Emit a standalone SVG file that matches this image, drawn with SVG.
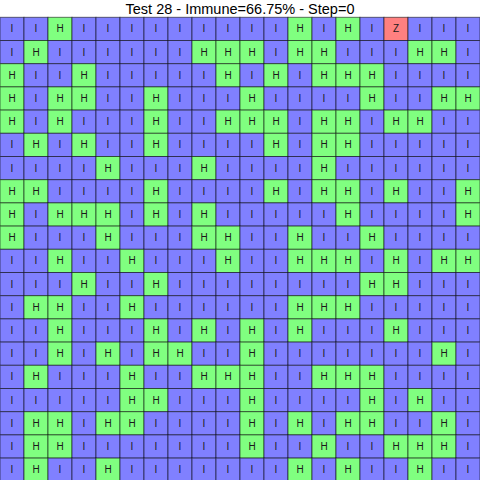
<svg xmlns="http://www.w3.org/2000/svg" width="480" height="480" viewBox="0 0 480 480">
<style>
rect.c{width:24px;height:23.2px;stroke:#000;stroke-opacity:.55;stroke-width:1}
.I rect{fill:#8080ff}.H rect{fill:#80ff80}.Z rect{fill:#ff8080}
text{font-family:"Liberation Sans",Arial,sans-serif;font-size:10px;text-anchor:middle;fill:#1a1a1a}
#title{font-size:14.5px;fill:#000}
</style>
<rect width="480" height="480" fill="#fff"/>
<text id="title" x="240" y="14.3">Test 28 - Immune=66.75% - Step=0</text>
<g id="grid">
<g id="row0" transform="translate(0,17.3)">
<g id="c0_0" class="I"><rect class="c" x="0"/><text x="12" y="15.2">I</text></g>
<g id="c0_1" class="I"><rect class="c" x="24"/><text x="36" y="15.2">I</text></g>
<g id="c0_2" class="H"><rect class="c" x="48"/><text x="60" y="15.2">H</text></g>
<g id="c0_3" class="I"><rect class="c" x="72"/><text x="84" y="15.2">I</text></g>
<g id="c0_4" class="I"><rect class="c" x="96"/><text x="108" y="15.2">I</text></g>
<g id="c0_5" class="I"><rect class="c" x="120"/><text x="132" y="15.2">I</text></g>
<g id="c0_6" class="I"><rect class="c" x="144"/><text x="156" y="15.2">I</text></g>
<g id="c0_7" class="I"><rect class="c" x="168"/><text x="180" y="15.2">I</text></g>
<g id="c0_8" class="I"><rect class="c" x="192"/><text x="204" y="15.2">I</text></g>
<g id="c0_9" class="I"><rect class="c" x="216"/><text x="228" y="15.2">I</text></g>
<g id="c0_10" class="I"><rect class="c" x="240"/><text x="252" y="15.2">I</text></g>
<g id="c0_11" class="I"><rect class="c" x="264"/><text x="276" y="15.2">I</text></g>
<g id="c0_12" class="H"><rect class="c" x="288"/><text x="300" y="15.2">H</text></g>
<g id="c0_13" class="I"><rect class="c" x="312"/><text x="324" y="15.2">I</text></g>
<g id="c0_14" class="H"><rect class="c" x="336"/><text x="348" y="15.2">H</text></g>
<g id="c0_15" class="I"><rect class="c" x="360"/><text x="372" y="15.2">I</text></g>
<g id="c0_16" class="Z"><rect class="c" x="384"/><text x="396" y="15.2">Z</text></g>
<g id="c0_17" class="I"><rect class="c" x="408"/><text x="420" y="15.2">I</text></g>
<g id="c0_18" class="I"><rect class="c" x="432"/><text x="444" y="15.2">I</text></g>
<g id="c0_19" class="I"><rect class="c" x="456"/><text x="468" y="15.2">I</text></g>
</g>
<g id="row1" transform="translate(0,40.5)">
<g id="c1_0" class="I"><rect class="c" x="0"/><text x="12" y="15.2">I</text></g>
<g id="c1_1" class="H"><rect class="c" x="24"/><text x="36" y="15.2">H</text></g>
<g id="c1_2" class="I"><rect class="c" x="48"/><text x="60" y="15.2">I</text></g>
<g id="c1_3" class="I"><rect class="c" x="72"/><text x="84" y="15.2">I</text></g>
<g id="c1_4" class="I"><rect class="c" x="96"/><text x="108" y="15.2">I</text></g>
<g id="c1_5" class="I"><rect class="c" x="120"/><text x="132" y="15.2">I</text></g>
<g id="c1_6" class="I"><rect class="c" x="144"/><text x="156" y="15.2">I</text></g>
<g id="c1_7" class="I"><rect class="c" x="168"/><text x="180" y="15.2">I</text></g>
<g id="c1_8" class="H"><rect class="c" x="192"/><text x="204" y="15.2">H</text></g>
<g id="c1_9" class="H"><rect class="c" x="216"/><text x="228" y="15.2">H</text></g>
<g id="c1_10" class="H"><rect class="c" x="240"/><text x="252" y="15.2">H</text></g>
<g id="c1_11" class="I"><rect class="c" x="264"/><text x="276" y="15.2">I</text></g>
<g id="c1_12" class="H"><rect class="c" x="288"/><text x="300" y="15.2">H</text></g>
<g id="c1_13" class="H"><rect class="c" x="312"/><text x="324" y="15.2">H</text></g>
<g id="c1_14" class="I"><rect class="c" x="336"/><text x="348" y="15.2">I</text></g>
<g id="c1_15" class="I"><rect class="c" x="360"/><text x="372" y="15.2">I</text></g>
<g id="c1_16" class="I"><rect class="c" x="384"/><text x="396" y="15.2">I</text></g>
<g id="c1_17" class="H"><rect class="c" x="408"/><text x="420" y="15.2">H</text></g>
<g id="c1_18" class="H"><rect class="c" x="432"/><text x="444" y="15.2">H</text></g>
<g id="c1_19" class="I"><rect class="c" x="456"/><text x="468" y="15.2">I</text></g>
</g>
<g id="row2" transform="translate(0,63.7)">
<g id="c2_0" class="H"><rect class="c" x="0"/><text x="12" y="15.2">H</text></g>
<g id="c2_1" class="I"><rect class="c" x="24"/><text x="36" y="15.2">I</text></g>
<g id="c2_2" class="I"><rect class="c" x="48"/><text x="60" y="15.2">I</text></g>
<g id="c2_3" class="H"><rect class="c" x="72"/><text x="84" y="15.2">H</text></g>
<g id="c2_4" class="I"><rect class="c" x="96"/><text x="108" y="15.2">I</text></g>
<g id="c2_5" class="I"><rect class="c" x="120"/><text x="132" y="15.2">I</text></g>
<g id="c2_6" class="I"><rect class="c" x="144"/><text x="156" y="15.2">I</text></g>
<g id="c2_7" class="I"><rect class="c" x="168"/><text x="180" y="15.2">I</text></g>
<g id="c2_8" class="I"><rect class="c" x="192"/><text x="204" y="15.2">I</text></g>
<g id="c2_9" class="H"><rect class="c" x="216"/><text x="228" y="15.2">H</text></g>
<g id="c2_10" class="I"><rect class="c" x="240"/><text x="252" y="15.2">I</text></g>
<g id="c2_11" class="H"><rect class="c" x="264"/><text x="276" y="15.2">H</text></g>
<g id="c2_12" class="I"><rect class="c" x="288"/><text x="300" y="15.2">I</text></g>
<g id="c2_13" class="H"><rect class="c" x="312"/><text x="324" y="15.2">H</text></g>
<g id="c2_14" class="H"><rect class="c" x="336"/><text x="348" y="15.2">H</text></g>
<g id="c2_15" class="H"><rect class="c" x="360"/><text x="372" y="15.2">H</text></g>
<g id="c2_16" class="I"><rect class="c" x="384"/><text x="396" y="15.2">I</text></g>
<g id="c2_17" class="I"><rect class="c" x="408"/><text x="420" y="15.2">I</text></g>
<g id="c2_18" class="I"><rect class="c" x="432"/><text x="444" y="15.2">I</text></g>
<g id="c2_19" class="I"><rect class="c" x="456"/><text x="468" y="15.2">I</text></g>
</g>
<g id="row3" transform="translate(0,86.9)">
<g id="c3_0" class="H"><rect class="c" x="0"/><text x="12" y="15.2">H</text></g>
<g id="c3_1" class="I"><rect class="c" x="24"/><text x="36" y="15.2">I</text></g>
<g id="c3_2" class="H"><rect class="c" x="48"/><text x="60" y="15.2">H</text></g>
<g id="c3_3" class="H"><rect class="c" x="72"/><text x="84" y="15.2">H</text></g>
<g id="c3_4" class="I"><rect class="c" x="96"/><text x="108" y="15.2">I</text></g>
<g id="c3_5" class="I"><rect class="c" x="120"/><text x="132" y="15.2">I</text></g>
<g id="c3_6" class="H"><rect class="c" x="144"/><text x="156" y="15.2">H</text></g>
<g id="c3_7" class="I"><rect class="c" x="168"/><text x="180" y="15.2">I</text></g>
<g id="c3_8" class="I"><rect class="c" x="192"/><text x="204" y="15.2">I</text></g>
<g id="c3_9" class="I"><rect class="c" x="216"/><text x="228" y="15.2">I</text></g>
<g id="c3_10" class="H"><rect class="c" x="240"/><text x="252" y="15.2">H</text></g>
<g id="c3_11" class="I"><rect class="c" x="264"/><text x="276" y="15.2">I</text></g>
<g id="c3_12" class="I"><rect class="c" x="288"/><text x="300" y="15.2">I</text></g>
<g id="c3_13" class="I"><rect class="c" x="312"/><text x="324" y="15.2">I</text></g>
<g id="c3_14" class="I"><rect class="c" x="336"/><text x="348" y="15.2">I</text></g>
<g id="c3_15" class="H"><rect class="c" x="360"/><text x="372" y="15.2">H</text></g>
<g id="c3_16" class="I"><rect class="c" x="384"/><text x="396" y="15.2">I</text></g>
<g id="c3_17" class="I"><rect class="c" x="408"/><text x="420" y="15.2">I</text></g>
<g id="c3_18" class="H"><rect class="c" x="432"/><text x="444" y="15.2">H</text></g>
<g id="c3_19" class="H"><rect class="c" x="456"/><text x="468" y="15.2">H</text></g>
</g>
<g id="row4" transform="translate(0,110.1)">
<g id="c4_0" class="H"><rect class="c" x="0"/><text x="12" y="15.2">H</text></g>
<g id="c4_1" class="I"><rect class="c" x="24"/><text x="36" y="15.2">I</text></g>
<g id="c4_2" class="H"><rect class="c" x="48"/><text x="60" y="15.2">H</text></g>
<g id="c4_3" class="I"><rect class="c" x="72"/><text x="84" y="15.2">I</text></g>
<g id="c4_4" class="I"><rect class="c" x="96"/><text x="108" y="15.2">I</text></g>
<g id="c4_5" class="I"><rect class="c" x="120"/><text x="132" y="15.2">I</text></g>
<g id="c4_6" class="H"><rect class="c" x="144"/><text x="156" y="15.2">H</text></g>
<g id="c4_7" class="I"><rect class="c" x="168"/><text x="180" y="15.2">I</text></g>
<g id="c4_8" class="I"><rect class="c" x="192"/><text x="204" y="15.2">I</text></g>
<g id="c4_9" class="H"><rect class="c" x="216"/><text x="228" y="15.2">H</text></g>
<g id="c4_10" class="H"><rect class="c" x="240"/><text x="252" y="15.2">H</text></g>
<g id="c4_11" class="H"><rect class="c" x="264"/><text x="276" y="15.2">H</text></g>
<g id="c4_12" class="I"><rect class="c" x="288"/><text x="300" y="15.2">I</text></g>
<g id="c4_13" class="H"><rect class="c" x="312"/><text x="324" y="15.2">H</text></g>
<g id="c4_14" class="H"><rect class="c" x="336"/><text x="348" y="15.2">H</text></g>
<g id="c4_15" class="I"><rect class="c" x="360"/><text x="372" y="15.2">I</text></g>
<g id="c4_16" class="H"><rect class="c" x="384"/><text x="396" y="15.2">H</text></g>
<g id="c4_17" class="H"><rect class="c" x="408"/><text x="420" y="15.2">H</text></g>
<g id="c4_18" class="I"><rect class="c" x="432"/><text x="444" y="15.2">I</text></g>
<g id="c4_19" class="I"><rect class="c" x="456"/><text x="468" y="15.2">I</text></g>
</g>
<g id="row5" transform="translate(0,133.3)">
<g id="c5_0" class="I"><rect class="c" x="0"/><text x="12" y="15.2">I</text></g>
<g id="c5_1" class="H"><rect class="c" x="24"/><text x="36" y="15.2">H</text></g>
<g id="c5_2" class="I"><rect class="c" x="48"/><text x="60" y="15.2">I</text></g>
<g id="c5_3" class="H"><rect class="c" x="72"/><text x="84" y="15.2">H</text></g>
<g id="c5_4" class="I"><rect class="c" x="96"/><text x="108" y="15.2">I</text></g>
<g id="c5_5" class="I"><rect class="c" x="120"/><text x="132" y="15.2">I</text></g>
<g id="c5_6" class="H"><rect class="c" x="144"/><text x="156" y="15.2">H</text></g>
<g id="c5_7" class="I"><rect class="c" x="168"/><text x="180" y="15.2">I</text></g>
<g id="c5_8" class="I"><rect class="c" x="192"/><text x="204" y="15.2">I</text></g>
<g id="c5_9" class="I"><rect class="c" x="216"/><text x="228" y="15.2">I</text></g>
<g id="c5_10" class="I"><rect class="c" x="240"/><text x="252" y="15.2">I</text></g>
<g id="c5_11" class="H"><rect class="c" x="264"/><text x="276" y="15.2">H</text></g>
<g id="c5_12" class="I"><rect class="c" x="288"/><text x="300" y="15.2">I</text></g>
<g id="c5_13" class="H"><rect class="c" x="312"/><text x="324" y="15.2">H</text></g>
<g id="c5_14" class="H"><rect class="c" x="336"/><text x="348" y="15.2">H</text></g>
<g id="c5_15" class="I"><rect class="c" x="360"/><text x="372" y="15.2">I</text></g>
<g id="c5_16" class="I"><rect class="c" x="384"/><text x="396" y="15.2">I</text></g>
<g id="c5_17" class="I"><rect class="c" x="408"/><text x="420" y="15.2">I</text></g>
<g id="c5_18" class="I"><rect class="c" x="432"/><text x="444" y="15.2">I</text></g>
<g id="c5_19" class="I"><rect class="c" x="456"/><text x="468" y="15.2">I</text></g>
</g>
<g id="row6" transform="translate(0,156.5)">
<g id="c6_0" class="I"><rect class="c" x="0"/><text x="12" y="15.2">I</text></g>
<g id="c6_1" class="I"><rect class="c" x="24"/><text x="36" y="15.2">I</text></g>
<g id="c6_2" class="I"><rect class="c" x="48"/><text x="60" y="15.2">I</text></g>
<g id="c6_3" class="I"><rect class="c" x="72"/><text x="84" y="15.2">I</text></g>
<g id="c6_4" class="H"><rect class="c" x="96"/><text x="108" y="15.2">H</text></g>
<g id="c6_5" class="I"><rect class="c" x="120"/><text x="132" y="15.2">I</text></g>
<g id="c6_6" class="I"><rect class="c" x="144"/><text x="156" y="15.2">I</text></g>
<g id="c6_7" class="I"><rect class="c" x="168"/><text x="180" y="15.2">I</text></g>
<g id="c6_8" class="H"><rect class="c" x="192"/><text x="204" y="15.2">H</text></g>
<g id="c6_9" class="I"><rect class="c" x="216"/><text x="228" y="15.2">I</text></g>
<g id="c6_10" class="I"><rect class="c" x="240"/><text x="252" y="15.2">I</text></g>
<g id="c6_11" class="I"><rect class="c" x="264"/><text x="276" y="15.2">I</text></g>
<g id="c6_12" class="I"><rect class="c" x="288"/><text x="300" y="15.2">I</text></g>
<g id="c6_13" class="H"><rect class="c" x="312"/><text x="324" y="15.2">H</text></g>
<g id="c6_14" class="I"><rect class="c" x="336"/><text x="348" y="15.2">I</text></g>
<g id="c6_15" class="I"><rect class="c" x="360"/><text x="372" y="15.2">I</text></g>
<g id="c6_16" class="I"><rect class="c" x="384"/><text x="396" y="15.2">I</text></g>
<g id="c6_17" class="I"><rect class="c" x="408"/><text x="420" y="15.2">I</text></g>
<g id="c6_18" class="I"><rect class="c" x="432"/><text x="444" y="15.2">I</text></g>
<g id="c6_19" class="I"><rect class="c" x="456"/><text x="468" y="15.2">I</text></g>
</g>
<g id="row7" transform="translate(0,179.7)">
<g id="c7_0" class="H"><rect class="c" x="0"/><text x="12" y="15.2">H</text></g>
<g id="c7_1" class="H"><rect class="c" x="24"/><text x="36" y="15.2">H</text></g>
<g id="c7_2" class="I"><rect class="c" x="48"/><text x="60" y="15.2">I</text></g>
<g id="c7_3" class="I"><rect class="c" x="72"/><text x="84" y="15.2">I</text></g>
<g id="c7_4" class="I"><rect class="c" x="96"/><text x="108" y="15.2">I</text></g>
<g id="c7_5" class="I"><rect class="c" x="120"/><text x="132" y="15.2">I</text></g>
<g id="c7_6" class="H"><rect class="c" x="144"/><text x="156" y="15.2">H</text></g>
<g id="c7_7" class="I"><rect class="c" x="168"/><text x="180" y="15.2">I</text></g>
<g id="c7_8" class="I"><rect class="c" x="192"/><text x="204" y="15.2">I</text></g>
<g id="c7_9" class="I"><rect class="c" x="216"/><text x="228" y="15.2">I</text></g>
<g id="c7_10" class="I"><rect class="c" x="240"/><text x="252" y="15.2">I</text></g>
<g id="c7_11" class="H"><rect class="c" x="264"/><text x="276" y="15.2">H</text></g>
<g id="c7_12" class="I"><rect class="c" x="288"/><text x="300" y="15.2">I</text></g>
<g id="c7_13" class="H"><rect class="c" x="312"/><text x="324" y="15.2">H</text></g>
<g id="c7_14" class="H"><rect class="c" x="336"/><text x="348" y="15.2">H</text></g>
<g id="c7_15" class="I"><rect class="c" x="360"/><text x="372" y="15.2">I</text></g>
<g id="c7_16" class="H"><rect class="c" x="384"/><text x="396" y="15.2">H</text></g>
<g id="c7_17" class="I"><rect class="c" x="408"/><text x="420" y="15.2">I</text></g>
<g id="c7_18" class="I"><rect class="c" x="432"/><text x="444" y="15.2">I</text></g>
<g id="c7_19" class="H"><rect class="c" x="456"/><text x="468" y="15.2">H</text></g>
</g>
<g id="row8" transform="translate(0,202.9)">
<g id="c8_0" class="H"><rect class="c" x="0"/><text x="12" y="15.2">H</text></g>
<g id="c8_1" class="I"><rect class="c" x="24"/><text x="36" y="15.2">I</text></g>
<g id="c8_2" class="H"><rect class="c" x="48"/><text x="60" y="15.2">H</text></g>
<g id="c8_3" class="H"><rect class="c" x="72"/><text x="84" y="15.2">H</text></g>
<g id="c8_4" class="H"><rect class="c" x="96"/><text x="108" y="15.2">H</text></g>
<g id="c8_5" class="I"><rect class="c" x="120"/><text x="132" y="15.2">I</text></g>
<g id="c8_6" class="H"><rect class="c" x="144"/><text x="156" y="15.2">H</text></g>
<g id="c8_7" class="I"><rect class="c" x="168"/><text x="180" y="15.2">I</text></g>
<g id="c8_8" class="H"><rect class="c" x="192"/><text x="204" y="15.2">H</text></g>
<g id="c8_9" class="I"><rect class="c" x="216"/><text x="228" y="15.2">I</text></g>
<g id="c8_10" class="I"><rect class="c" x="240"/><text x="252" y="15.2">I</text></g>
<g id="c8_11" class="I"><rect class="c" x="264"/><text x="276" y="15.2">I</text></g>
<g id="c8_12" class="I"><rect class="c" x="288"/><text x="300" y="15.2">I</text></g>
<g id="c8_13" class="I"><rect class="c" x="312"/><text x="324" y="15.2">I</text></g>
<g id="c8_14" class="H"><rect class="c" x="336"/><text x="348" y="15.2">H</text></g>
<g id="c8_15" class="I"><rect class="c" x="360"/><text x="372" y="15.2">I</text></g>
<g id="c8_16" class="I"><rect class="c" x="384"/><text x="396" y="15.2">I</text></g>
<g id="c8_17" class="I"><rect class="c" x="408"/><text x="420" y="15.2">I</text></g>
<g id="c8_18" class="I"><rect class="c" x="432"/><text x="444" y="15.2">I</text></g>
<g id="c8_19" class="H"><rect class="c" x="456"/><text x="468" y="15.2">H</text></g>
</g>
<g id="row9" transform="translate(0,226.1)">
<g id="c9_0" class="H"><rect class="c" x="0"/><text x="12" y="15.2">H</text></g>
<g id="c9_1" class="I"><rect class="c" x="24"/><text x="36" y="15.2">I</text></g>
<g id="c9_2" class="I"><rect class="c" x="48"/><text x="60" y="15.2">I</text></g>
<g id="c9_3" class="I"><rect class="c" x="72"/><text x="84" y="15.2">I</text></g>
<g id="c9_4" class="H"><rect class="c" x="96"/><text x="108" y="15.2">H</text></g>
<g id="c9_5" class="I"><rect class="c" x="120"/><text x="132" y="15.2">I</text></g>
<g id="c9_6" class="I"><rect class="c" x="144"/><text x="156" y="15.2">I</text></g>
<g id="c9_7" class="I"><rect class="c" x="168"/><text x="180" y="15.2">I</text></g>
<g id="c9_8" class="H"><rect class="c" x="192"/><text x="204" y="15.2">H</text></g>
<g id="c9_9" class="H"><rect class="c" x="216"/><text x="228" y="15.2">H</text></g>
<g id="c9_10" class="I"><rect class="c" x="240"/><text x="252" y="15.2">I</text></g>
<g id="c9_11" class="I"><rect class="c" x="264"/><text x="276" y="15.2">I</text></g>
<g id="c9_12" class="H"><rect class="c" x="288"/><text x="300" y="15.2">H</text></g>
<g id="c9_13" class="I"><rect class="c" x="312"/><text x="324" y="15.2">I</text></g>
<g id="c9_14" class="I"><rect class="c" x="336"/><text x="348" y="15.2">I</text></g>
<g id="c9_15" class="H"><rect class="c" x="360"/><text x="372" y="15.2">H</text></g>
<g id="c9_16" class="I"><rect class="c" x="384"/><text x="396" y="15.2">I</text></g>
<g id="c9_17" class="I"><rect class="c" x="408"/><text x="420" y="15.2">I</text></g>
<g id="c9_18" class="I"><rect class="c" x="432"/><text x="444" y="15.2">I</text></g>
<g id="c9_19" class="I"><rect class="c" x="456"/><text x="468" y="15.2">I</text></g>
</g>
<g id="row10" transform="translate(0,249.3)">
<g id="c10_0" class="I"><rect class="c" x="0"/><text x="12" y="15.2">I</text></g>
<g id="c10_1" class="I"><rect class="c" x="24"/><text x="36" y="15.2">I</text></g>
<g id="c10_2" class="H"><rect class="c" x="48"/><text x="60" y="15.2">H</text></g>
<g id="c10_3" class="I"><rect class="c" x="72"/><text x="84" y="15.2">I</text></g>
<g id="c10_4" class="I"><rect class="c" x="96"/><text x="108" y="15.2">I</text></g>
<g id="c10_5" class="H"><rect class="c" x="120"/><text x="132" y="15.2">H</text></g>
<g id="c10_6" class="I"><rect class="c" x="144"/><text x="156" y="15.2">I</text></g>
<g id="c10_7" class="I"><rect class="c" x="168"/><text x="180" y="15.2">I</text></g>
<g id="c10_8" class="I"><rect class="c" x="192"/><text x="204" y="15.2">I</text></g>
<g id="c10_9" class="H"><rect class="c" x="216"/><text x="228" y="15.2">H</text></g>
<g id="c10_10" class="I"><rect class="c" x="240"/><text x="252" y="15.2">I</text></g>
<g id="c10_11" class="I"><rect class="c" x="264"/><text x="276" y="15.2">I</text></g>
<g id="c10_12" class="H"><rect class="c" x="288"/><text x="300" y="15.2">H</text></g>
<g id="c10_13" class="H"><rect class="c" x="312"/><text x="324" y="15.2">H</text></g>
<g id="c10_14" class="H"><rect class="c" x="336"/><text x="348" y="15.2">H</text></g>
<g id="c10_15" class="I"><rect class="c" x="360"/><text x="372" y="15.2">I</text></g>
<g id="c10_16" class="H"><rect class="c" x="384"/><text x="396" y="15.2">H</text></g>
<g id="c10_17" class="I"><rect class="c" x="408"/><text x="420" y="15.2">I</text></g>
<g id="c10_18" class="H"><rect class="c" x="432"/><text x="444" y="15.2">H</text></g>
<g id="c10_19" class="H"><rect class="c" x="456"/><text x="468" y="15.2">H</text></g>
</g>
<g id="row11" transform="translate(0,272.5)">
<g id="c11_0" class="I"><rect class="c" x="0"/><text x="12" y="15.2">I</text></g>
<g id="c11_1" class="I"><rect class="c" x="24"/><text x="36" y="15.2">I</text></g>
<g id="c11_2" class="I"><rect class="c" x="48"/><text x="60" y="15.2">I</text></g>
<g id="c11_3" class="H"><rect class="c" x="72"/><text x="84" y="15.2">H</text></g>
<g id="c11_4" class="I"><rect class="c" x="96"/><text x="108" y="15.2">I</text></g>
<g id="c11_5" class="I"><rect class="c" x="120"/><text x="132" y="15.2">I</text></g>
<g id="c11_6" class="H"><rect class="c" x="144"/><text x="156" y="15.2">H</text></g>
<g id="c11_7" class="I"><rect class="c" x="168"/><text x="180" y="15.2">I</text></g>
<g id="c11_8" class="I"><rect class="c" x="192"/><text x="204" y="15.2">I</text></g>
<g id="c11_9" class="I"><rect class="c" x="216"/><text x="228" y="15.2">I</text></g>
<g id="c11_10" class="I"><rect class="c" x="240"/><text x="252" y="15.2">I</text></g>
<g id="c11_11" class="I"><rect class="c" x="264"/><text x="276" y="15.2">I</text></g>
<g id="c11_12" class="I"><rect class="c" x="288"/><text x="300" y="15.2">I</text></g>
<g id="c11_13" class="I"><rect class="c" x="312"/><text x="324" y="15.2">I</text></g>
<g id="c11_14" class="I"><rect class="c" x="336"/><text x="348" y="15.2">I</text></g>
<g id="c11_15" class="H"><rect class="c" x="360"/><text x="372" y="15.2">H</text></g>
<g id="c11_16" class="H"><rect class="c" x="384"/><text x="396" y="15.2">H</text></g>
<g id="c11_17" class="I"><rect class="c" x="408"/><text x="420" y="15.2">I</text></g>
<g id="c11_18" class="I"><rect class="c" x="432"/><text x="444" y="15.2">I</text></g>
<g id="c11_19" class="I"><rect class="c" x="456"/><text x="468" y="15.2">I</text></g>
</g>
<g id="row12" transform="translate(0,295.7)">
<g id="c12_0" class="I"><rect class="c" x="0"/><text x="12" y="15.2">I</text></g>
<g id="c12_1" class="H"><rect class="c" x="24"/><text x="36" y="15.2">H</text></g>
<g id="c12_2" class="H"><rect class="c" x="48"/><text x="60" y="15.2">H</text></g>
<g id="c12_3" class="I"><rect class="c" x="72"/><text x="84" y="15.2">I</text></g>
<g id="c12_4" class="I"><rect class="c" x="96"/><text x="108" y="15.2">I</text></g>
<g id="c12_5" class="H"><rect class="c" x="120"/><text x="132" y="15.2">H</text></g>
<g id="c12_6" class="I"><rect class="c" x="144"/><text x="156" y="15.2">I</text></g>
<g id="c12_7" class="I"><rect class="c" x="168"/><text x="180" y="15.2">I</text></g>
<g id="c12_8" class="I"><rect class="c" x="192"/><text x="204" y="15.2">I</text></g>
<g id="c12_9" class="I"><rect class="c" x="216"/><text x="228" y="15.2">I</text></g>
<g id="c12_10" class="I"><rect class="c" x="240"/><text x="252" y="15.2">I</text></g>
<g id="c12_11" class="I"><rect class="c" x="264"/><text x="276" y="15.2">I</text></g>
<g id="c12_12" class="H"><rect class="c" x="288"/><text x="300" y="15.2">H</text></g>
<g id="c12_13" class="H"><rect class="c" x="312"/><text x="324" y="15.2">H</text></g>
<g id="c12_14" class="H"><rect class="c" x="336"/><text x="348" y="15.2">H</text></g>
<g id="c12_15" class="I"><rect class="c" x="360"/><text x="372" y="15.2">I</text></g>
<g id="c12_16" class="I"><rect class="c" x="384"/><text x="396" y="15.2">I</text></g>
<g id="c12_17" class="I"><rect class="c" x="408"/><text x="420" y="15.2">I</text></g>
<g id="c12_18" class="I"><rect class="c" x="432"/><text x="444" y="15.2">I</text></g>
<g id="c12_19" class="I"><rect class="c" x="456"/><text x="468" y="15.2">I</text></g>
</g>
<g id="row13" transform="translate(0,318.9)">
<g id="c13_0" class="I"><rect class="c" x="0"/><text x="12" y="15.2">I</text></g>
<g id="c13_1" class="I"><rect class="c" x="24"/><text x="36" y="15.2">I</text></g>
<g id="c13_2" class="H"><rect class="c" x="48"/><text x="60" y="15.2">H</text></g>
<g id="c13_3" class="I"><rect class="c" x="72"/><text x="84" y="15.2">I</text></g>
<g id="c13_4" class="I"><rect class="c" x="96"/><text x="108" y="15.2">I</text></g>
<g id="c13_5" class="I"><rect class="c" x="120"/><text x="132" y="15.2">I</text></g>
<g id="c13_6" class="H"><rect class="c" x="144"/><text x="156" y="15.2">H</text></g>
<g id="c13_7" class="I"><rect class="c" x="168"/><text x="180" y="15.2">I</text></g>
<g id="c13_8" class="H"><rect class="c" x="192"/><text x="204" y="15.2">H</text></g>
<g id="c13_9" class="I"><rect class="c" x="216"/><text x="228" y="15.2">I</text></g>
<g id="c13_10" class="H"><rect class="c" x="240"/><text x="252" y="15.2">H</text></g>
<g id="c13_11" class="I"><rect class="c" x="264"/><text x="276" y="15.2">I</text></g>
<g id="c13_12" class="H"><rect class="c" x="288"/><text x="300" y="15.2">H</text></g>
<g id="c13_13" class="I"><rect class="c" x="312"/><text x="324" y="15.2">I</text></g>
<g id="c13_14" class="I"><rect class="c" x="336"/><text x="348" y="15.2">I</text></g>
<g id="c13_15" class="I"><rect class="c" x="360"/><text x="372" y="15.2">I</text></g>
<g id="c13_16" class="H"><rect class="c" x="384"/><text x="396" y="15.2">H</text></g>
<g id="c13_17" class="I"><rect class="c" x="408"/><text x="420" y="15.2">I</text></g>
<g id="c13_18" class="I"><rect class="c" x="432"/><text x="444" y="15.2">I</text></g>
<g id="c13_19" class="I"><rect class="c" x="456"/><text x="468" y="15.2">I</text></g>
</g>
<g id="row14" transform="translate(0,342.1)">
<g id="c14_0" class="I"><rect class="c" x="0"/><text x="12" y="15.2">I</text></g>
<g id="c14_1" class="I"><rect class="c" x="24"/><text x="36" y="15.2">I</text></g>
<g id="c14_2" class="H"><rect class="c" x="48"/><text x="60" y="15.2">H</text></g>
<g id="c14_3" class="I"><rect class="c" x="72"/><text x="84" y="15.2">I</text></g>
<g id="c14_4" class="H"><rect class="c" x="96"/><text x="108" y="15.2">H</text></g>
<g id="c14_5" class="I"><rect class="c" x="120"/><text x="132" y="15.2">I</text></g>
<g id="c14_6" class="H"><rect class="c" x="144"/><text x="156" y="15.2">H</text></g>
<g id="c14_7" class="H"><rect class="c" x="168"/><text x="180" y="15.2">H</text></g>
<g id="c14_8" class="I"><rect class="c" x="192"/><text x="204" y="15.2">I</text></g>
<g id="c14_9" class="I"><rect class="c" x="216"/><text x="228" y="15.2">I</text></g>
<g id="c14_10" class="H"><rect class="c" x="240"/><text x="252" y="15.2">H</text></g>
<g id="c14_11" class="I"><rect class="c" x="264"/><text x="276" y="15.2">I</text></g>
<g id="c14_12" class="I"><rect class="c" x="288"/><text x="300" y="15.2">I</text></g>
<g id="c14_13" class="I"><rect class="c" x="312"/><text x="324" y="15.2">I</text></g>
<g id="c14_14" class="I"><rect class="c" x="336"/><text x="348" y="15.2">I</text></g>
<g id="c14_15" class="I"><rect class="c" x="360"/><text x="372" y="15.2">I</text></g>
<g id="c14_16" class="I"><rect class="c" x="384"/><text x="396" y="15.2">I</text></g>
<g id="c14_17" class="I"><rect class="c" x="408"/><text x="420" y="15.2">I</text></g>
<g id="c14_18" class="H"><rect class="c" x="432"/><text x="444" y="15.2">H</text></g>
<g id="c14_19" class="I"><rect class="c" x="456"/><text x="468" y="15.2">I</text></g>
</g>
<g id="row15" transform="translate(0,365.3)">
<g id="c15_0" class="I"><rect class="c" x="0"/><text x="12" y="15.2">I</text></g>
<g id="c15_1" class="H"><rect class="c" x="24"/><text x="36" y="15.2">H</text></g>
<g id="c15_2" class="I"><rect class="c" x="48"/><text x="60" y="15.2">I</text></g>
<g id="c15_3" class="I"><rect class="c" x="72"/><text x="84" y="15.2">I</text></g>
<g id="c15_4" class="I"><rect class="c" x="96"/><text x="108" y="15.2">I</text></g>
<g id="c15_5" class="H"><rect class="c" x="120"/><text x="132" y="15.2">H</text></g>
<g id="c15_6" class="I"><rect class="c" x="144"/><text x="156" y="15.2">I</text></g>
<g id="c15_7" class="I"><rect class="c" x="168"/><text x="180" y="15.2">I</text></g>
<g id="c15_8" class="H"><rect class="c" x="192"/><text x="204" y="15.2">H</text></g>
<g id="c15_9" class="H"><rect class="c" x="216"/><text x="228" y="15.2">H</text></g>
<g id="c15_10" class="H"><rect class="c" x="240"/><text x="252" y="15.2">H</text></g>
<g id="c15_11" class="I"><rect class="c" x="264"/><text x="276" y="15.2">I</text></g>
<g id="c15_12" class="I"><rect class="c" x="288"/><text x="300" y="15.2">I</text></g>
<g id="c15_13" class="H"><rect class="c" x="312"/><text x="324" y="15.2">H</text></g>
<g id="c15_14" class="H"><rect class="c" x="336"/><text x="348" y="15.2">H</text></g>
<g id="c15_15" class="H"><rect class="c" x="360"/><text x="372" y="15.2">H</text></g>
<g id="c15_16" class="I"><rect class="c" x="384"/><text x="396" y="15.2">I</text></g>
<g id="c15_17" class="I"><rect class="c" x="408"/><text x="420" y="15.2">I</text></g>
<g id="c15_18" class="I"><rect class="c" x="432"/><text x="444" y="15.2">I</text></g>
<g id="c15_19" class="I"><rect class="c" x="456"/><text x="468" y="15.2">I</text></g>
</g>
<g id="row16" transform="translate(0,388.5)">
<g id="c16_0" class="I"><rect class="c" x="0"/><text x="12" y="15.2">I</text></g>
<g id="c16_1" class="I"><rect class="c" x="24"/><text x="36" y="15.2">I</text></g>
<g id="c16_2" class="I"><rect class="c" x="48"/><text x="60" y="15.2">I</text></g>
<g id="c16_3" class="I"><rect class="c" x="72"/><text x="84" y="15.2">I</text></g>
<g id="c16_4" class="I"><rect class="c" x="96"/><text x="108" y="15.2">I</text></g>
<g id="c16_5" class="H"><rect class="c" x="120"/><text x="132" y="15.2">H</text></g>
<g id="c16_6" class="H"><rect class="c" x="144"/><text x="156" y="15.2">H</text></g>
<g id="c16_7" class="I"><rect class="c" x="168"/><text x="180" y="15.2">I</text></g>
<g id="c16_8" class="I"><rect class="c" x="192"/><text x="204" y="15.2">I</text></g>
<g id="c16_9" class="I"><rect class="c" x="216"/><text x="228" y="15.2">I</text></g>
<g id="c16_10" class="H"><rect class="c" x="240"/><text x="252" y="15.2">H</text></g>
<g id="c16_11" class="I"><rect class="c" x="264"/><text x="276" y="15.2">I</text></g>
<g id="c16_12" class="I"><rect class="c" x="288"/><text x="300" y="15.2">I</text></g>
<g id="c16_13" class="I"><rect class="c" x="312"/><text x="324" y="15.2">I</text></g>
<g id="c16_14" class="I"><rect class="c" x="336"/><text x="348" y="15.2">I</text></g>
<g id="c16_15" class="H"><rect class="c" x="360"/><text x="372" y="15.2">H</text></g>
<g id="c16_16" class="I"><rect class="c" x="384"/><text x="396" y="15.2">I</text></g>
<g id="c16_17" class="H"><rect class="c" x="408"/><text x="420" y="15.2">H</text></g>
<g id="c16_18" class="I"><rect class="c" x="432"/><text x="444" y="15.2">I</text></g>
<g id="c16_19" class="I"><rect class="c" x="456"/><text x="468" y="15.2">I</text></g>
</g>
<g id="row17" transform="translate(0,411.7)">
<g id="c17_0" class="I"><rect class="c" x="0"/><text x="12" y="15.2">I</text></g>
<g id="c17_1" class="H"><rect class="c" x="24"/><text x="36" y="15.2">H</text></g>
<g id="c17_2" class="H"><rect class="c" x="48"/><text x="60" y="15.2">H</text></g>
<g id="c17_3" class="I"><rect class="c" x="72"/><text x="84" y="15.2">I</text></g>
<g id="c17_4" class="H"><rect class="c" x="96"/><text x="108" y="15.2">H</text></g>
<g id="c17_5" class="H"><rect class="c" x="120"/><text x="132" y="15.2">H</text></g>
<g id="c17_6" class="I"><rect class="c" x="144"/><text x="156" y="15.2">I</text></g>
<g id="c17_7" class="I"><rect class="c" x="168"/><text x="180" y="15.2">I</text></g>
<g id="c17_8" class="I"><rect class="c" x="192"/><text x="204" y="15.2">I</text></g>
<g id="c17_9" class="I"><rect class="c" x="216"/><text x="228" y="15.2">I</text></g>
<g id="c17_10" class="H"><rect class="c" x="240"/><text x="252" y="15.2">H</text></g>
<g id="c17_11" class="I"><rect class="c" x="264"/><text x="276" y="15.2">I</text></g>
<g id="c17_12" class="H"><rect class="c" x="288"/><text x="300" y="15.2">H</text></g>
<g id="c17_13" class="I"><rect class="c" x="312"/><text x="324" y="15.2">I</text></g>
<g id="c17_14" class="H"><rect class="c" x="336"/><text x="348" y="15.2">H</text></g>
<g id="c17_15" class="H"><rect class="c" x="360"/><text x="372" y="15.2">H</text></g>
<g id="c17_16" class="I"><rect class="c" x="384"/><text x="396" y="15.2">I</text></g>
<g id="c17_17" class="I"><rect class="c" x="408"/><text x="420" y="15.2">I</text></g>
<g id="c17_18" class="H"><rect class="c" x="432"/><text x="444" y="15.2">H</text></g>
<g id="c17_19" class="I"><rect class="c" x="456"/><text x="468" y="15.2">I</text></g>
</g>
<g id="row18" transform="translate(0,434.9)">
<g id="c18_0" class="I"><rect class="c" x="0"/><text x="12" y="15.2">I</text></g>
<g id="c18_1" class="H"><rect class="c" x="24"/><text x="36" y="15.2">H</text></g>
<g id="c18_2" class="H"><rect class="c" x="48"/><text x="60" y="15.2">H</text></g>
<g id="c18_3" class="I"><rect class="c" x="72"/><text x="84" y="15.2">I</text></g>
<g id="c18_4" class="I"><rect class="c" x="96"/><text x="108" y="15.2">I</text></g>
<g id="c18_5" class="I"><rect class="c" x="120"/><text x="132" y="15.2">I</text></g>
<g id="c18_6" class="I"><rect class="c" x="144"/><text x="156" y="15.2">I</text></g>
<g id="c18_7" class="I"><rect class="c" x="168"/><text x="180" y="15.2">I</text></g>
<g id="c18_8" class="I"><rect class="c" x="192"/><text x="204" y="15.2">I</text></g>
<g id="c18_9" class="I"><rect class="c" x="216"/><text x="228" y="15.2">I</text></g>
<g id="c18_10" class="H"><rect class="c" x="240"/><text x="252" y="15.2">H</text></g>
<g id="c18_11" class="I"><rect class="c" x="264"/><text x="276" y="15.2">I</text></g>
<g id="c18_12" class="I"><rect class="c" x="288"/><text x="300" y="15.2">I</text></g>
<g id="c18_13" class="H"><rect class="c" x="312"/><text x="324" y="15.2">H</text></g>
<g id="c18_14" class="I"><rect class="c" x="336"/><text x="348" y="15.2">I</text></g>
<g id="c18_15" class="I"><rect class="c" x="360"/><text x="372" y="15.2">I</text></g>
<g id="c18_16" class="H"><rect class="c" x="384"/><text x="396" y="15.2">H</text></g>
<g id="c18_17" class="H"><rect class="c" x="408"/><text x="420" y="15.2">H</text></g>
<g id="c18_18" class="H"><rect class="c" x="432"/><text x="444" y="15.2">H</text></g>
<g id="c18_19" class="I"><rect class="c" x="456"/><text x="468" y="15.2">I</text></g>
</g>
<g id="row19" transform="translate(0,458.1)">
<g id="c19_0" class="I"><rect class="c" x="0"/><text x="12" y="15.2">I</text></g>
<g id="c19_1" class="H"><rect class="c" x="24"/><text x="36" y="15.2">H</text></g>
<g id="c19_2" class="I"><rect class="c" x="48"/><text x="60" y="15.2">I</text></g>
<g id="c19_3" class="I"><rect class="c" x="72"/><text x="84" y="15.2">I</text></g>
<g id="c19_4" class="H"><rect class="c" x="96"/><text x="108" y="15.2">H</text></g>
<g id="c19_5" class="I"><rect class="c" x="120"/><text x="132" y="15.2">I</text></g>
<g id="c19_6" class="I"><rect class="c" x="144"/><text x="156" y="15.2">I</text></g>
<g id="c19_7" class="I"><rect class="c" x="168"/><text x="180" y="15.2">I</text></g>
<g id="c19_8" class="I"><rect class="c" x="192"/><text x="204" y="15.2">I</text></g>
<g id="c19_9" class="I"><rect class="c" x="216"/><text x="228" y="15.2">I</text></g>
<g id="c19_10" class="I"><rect class="c" x="240"/><text x="252" y="15.2">I</text></g>
<g id="c19_11" class="I"><rect class="c" x="264"/><text x="276" y="15.2">I</text></g>
<g id="c19_12" class="H"><rect class="c" x="288"/><text x="300" y="15.2">H</text></g>
<g id="c19_13" class="I"><rect class="c" x="312"/><text x="324" y="15.2">I</text></g>
<g id="c19_14" class="H"><rect class="c" x="336"/><text x="348" y="15.2">H</text></g>
<g id="c19_15" class="I"><rect class="c" x="360"/><text x="372" y="15.2">I</text></g>
<g id="c19_16" class="I"><rect class="c" x="384"/><text x="396" y="15.2">I</text></g>
<g id="c19_17" class="H"><rect class="c" x="408"/><text x="420" y="15.2">H</text></g>
<g id="c19_18" class="I"><rect class="c" x="432"/><text x="444" y="15.2">I</text></g>
<g id="c19_19" class="I"><rect class="c" x="456"/><text x="468" y="15.2">I</text></g>
</g>
</g>
</svg>
